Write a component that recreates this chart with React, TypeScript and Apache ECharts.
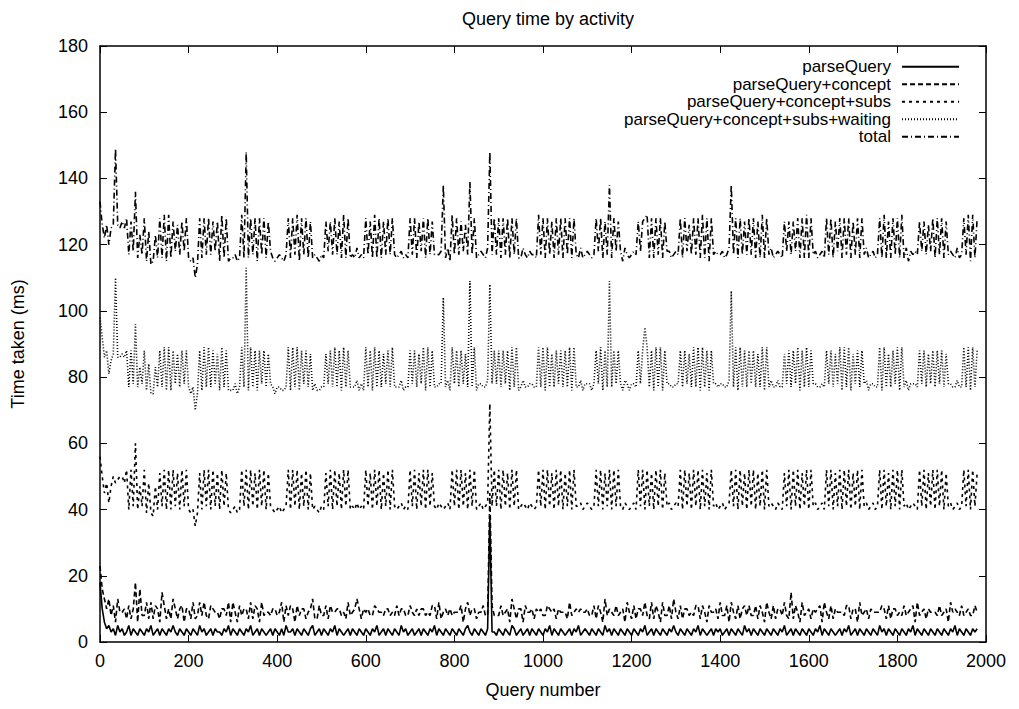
import React, { useEffect, useRef } from "react";
import * as echarts from "echarts";

// Query numbers are sampled every STEP queries (0, 5, 10, ... 1980)
const STEP = 5;

// parseQuery time (ms)
const parseQuery = [
  18,10,6,4,5,3,4,2,5,3,4,2,3,5,2,4,3,2,4,3,
  2,4,3,5,2,3,4,2,4,3,2,4,3,5,3,2,4,3,2,4,
  3,2,4,3,2,5,3,4,2,3,4,2,4,3,3,2,4,3,5,2,
  4,3,2,4,3,2,4,3,5,2,3,4,2,4,3,2,3,4,2,4,
  3,2,4,2,5,3,3,4,2,4,3,2,4,3,2,4,5,2,3,4,
  2,4,3,2,4,3,5,2,4,3,2,3,4,2,4,3,2,4,3,2,
  4,3,2,4,3,5,2,3,4,2,4,3,2,4,3,2,5,3,4,2,
  3,4,2,3,4,2,4,3,2,4,3,5,2,4,3,2,4,3,2,4,
  3,2,4,3,2,4,5,3,2,4,3,2,4,3,2,4,38,3,3,2,
  4,3,2,4,3,2,5,4,2,3,4,2,3,4,2,4,3,2,4,3,
  2,4,3,5,2,4,3,2,4,3,2,3,4,2,4,3,5,2,3,4,
  3,2,4,3,2,4,3,2,5,3,4,2,4,3,2,4,3,2,4,3,
  2,4,3,2,4,3,5,2,3,4,2,4,3,2,4,3,2,4,3,5,
  3,2,4,3,2,4,3,2,4,3,5,2,4,3,2,3,4,2,4,3,
  4,2,3,4,2,4,3,2,4,3,2,5,3,4,2,4,3,2,4,3,
  2,4,3,2,4,3,2,4,3,5,2,3,4,2,4,3,2,4,3,2,
  4,3,2,4,3,5,2,4,3,2,4,3,2,3,4,2,4,3,5,2,
  3,4,2,4,3,2,4,3,2,4,3,2,5,3,4,2,4,3,2,4,
  3,2,4,3,2,4,3,5,2,4,3,2,4,3,2,4,3,2,4,3,
  2,4,3,2,4,3,5,2,4,3,2,4,3,2,4,3,4,
];

// concept time (ms), stacked on parseQuery
const concept = [
  5,6,7,6,8,5,7,4,8,6,5,8,4,6,5,6,15,4,12,5,
  6,8,4,7,5,8,6,4,11,8,5,6,4,8,7,5,6,8,4,6,
  7,5,8,4,6,7,5,8,6,4,7,8,5,6,4,8,6,5,7,4,
  8,6,4,7,5,8,6,4,7,5,8,6,4,8,5,7,6,4,8,6,
  5,7,8,4,6,5,8,6,4,7,5,8,6,4,7,6,8,5,4,7,
  6,4,8,5,7,6,4,8,6,5,7,4,8,6,5,7,11,6,4,8,
  5,7,6,4,8,5,7,6,4,8,6,5,7,4,8,6,5,7,4,6,
  8,5,6,7,4,8,6,5,7,4,8,6,5,8,4,7,6,5,8,4,
  6,7,5,8,4,6,7,5,8,6,4,7,5,8,6,4,7,8,5,6,
  4,8,6,5,7,4,8,6,5,7,6,4,8,5,7,6,4,8,5,7,
  6,4,8,5,7,6,4,8,5,6,7,4,8,6,5,7,4,8,6,5,
  7,6,4,8,5,7,6,4,8,5,6,7,4,8,6,5,7,4,8,6,
  5,7,4,8,6,5,7,6,4,8,5,7,6,4,8,5,6,7,4,8,
  6,5,7,4,8,6,5,7,4,8,6,5,7,6,4,8,5,7,6,4,
  8,6,5,7,4,8,6,5,7,4,8,6,5,7,6,4,8,5,7,6,
  4,8,6,5,7,4,8,6,5,7,6,4,11,5,7,6,4,8,5,7,
  6,4,8,5,7,6,4,8,6,5,7,4,8,6,5,7,4,8,6,5,
  7,6,4,8,5,7,6,4,8,5,6,7,4,8,6,5,7,4,8,6,
  5,7,4,8,6,5,7,6,4,8,5,7,6,4,8,5,6,7,4,8,
  6,5,7,4,8,6,5,7,4,8,6,5,7,6,4,8,5,
];

// parseQuery+concept+subs line (ms)
const withSubs = [
  56,50,45,48,42,47,50,48,49,50,50,48,52,40,52,41,60,40,47,41,
  52,39,48,39,38,47,40,51,41,52,40,52,40,52,41,51,40,52,41,52,
  40,39,40,35,39,51,40,52,41,52,40,52,41,51,40,52,41,51,40,39,
  40,41,39,40,52,41,52,40,52,41,51,40,52,41,52,40,51,41,40,39,
  40,41,39,40,41,52,40,52,41,52,40,51,41,52,40,51,40,41,40,39,
  41,40,51,41,52,40,52,41,51,40,52,41,52,40,41,40,42,40,41,40,
  52,41,51,40,52,41,52,40,51,41,52,40,52,41,40,41,42,40,41,40,
  52,41,52,40,51,41,52,40,52,41,51,41,40,42,41,40,41,42,40,52,
  41,52,40,52,41,51,40,52,41,52,40,41,42,40,41,42,72,41,52,41,
  52,40,52,41,51,40,52,41,52,40,41,42,41,40,42,41,40,41,52,41,
  52,40,52,41,51,40,52,41,52,40,51,41,52,40,52,41,41,42,40,41,
  42,41,40,41,52,41,52,40,51,41,52,40,52,41,52,41,40,42,41,40,
  41,42,40,52,41,52,40,52,41,51,40,52,41,52,40,51,41,42,40,41,
  42,41,52,40,52,41,51,40,52,41,52,40,52,41,51,40,52,41,42,40,
  41,42,40,41,42,52,41,52,40,52,41,51,40,52,41,52,40,51,41,52,
  40,52,41,42,41,40,42,41,40,51,41,52,40,52,41,52,40,51,41,52,
  40,52,41,42,40,41,42,40,52,41,52,40,51,41,52,40,52,41,52,40,
  51,41,52,40,52,41,42,40,41,42,40,41,52,40,52,41,51,40,52,41,
  52,40,52,41,42,40,41,42,41,40,52,41,52,40,51,41,52,40,52,41,
  52,40,51,41,42,40,41,42,40,41,52,41,52,40,52,41,51,
];

// waiting time (ms): gap between the +subs and +waiting lines
const waiting = [
  42,42,41,40,39,38,37,62,37,36,37,38,36,37,36,37,36,37,36,37,
  36,37,36,36,37,36,37,37,36,37,36,37,36,36,37,36,37,36,37,36,
  37,36,37,35,36,37,36,37,36,37,37,36,37,36,36,37,36,37,36,37,
  36,37,36,37,37,36,61,36,37,36,37,36,36,37,36,37,36,37,37,36,
  37,36,37,36,36,37,36,37,36,37,36,37,37,36,37,36,36,37,36,37,
  36,37,36,37,36,37,37,36,37,36,37,36,36,37,36,37,37,36,37,36,
  37,36,37,36,37,36,36,37,36,37,36,37,37,36,37,36,37,36,36,37,
  36,37,36,37,36,37,37,36,37,36,37,36,37,36,37,64,36,37,36,37,
  37,36,37,36,37,36,37,57,36,37,36,37,36,37,36,37,36,37,36,37,
  36,37,36,37,37,36,37,36,37,36,36,37,36,37,36,37,37,36,37,36,
  37,36,37,36,36,37,36,37,36,37,37,36,37,36,37,36,36,37,36,37,
  36,37,36,37,36,37,37,36,37,36,57,37,36,37,36,37,36,37,37,36,
  37,36,37,36,37,36,55,37,36,37,36,37,36,37,36,37,37,36,37,36,
  36,37,36,37,36,37,36,37,37,36,37,36,37,36,37,36,36,37,36,37,
  37,36,37,36,37,54,36,37,36,37,36,37,37,36,37,36,37,36,36,37,
  36,37,36,37,36,37,37,36,37,36,37,36,37,36,37,37,36,37,36,37,
  37,36,37,36,37,36,36,37,36,37,36,37,36,37,37,36,37,36,37,36,
  36,37,36,37,36,37,37,36,37,36,37,36,37,36,37,36,36,37,36,37,
  37,36,37,36,37,36,37,36,37,37,36,37,36,37,36,37,36,37,36,37,
  36,37,36,37,36,37,36,37,37,36,37,36,37,36,37,36,37,
];

// remaining time (ms): gap between the +waiting line and the total line
const other = [
  35,34,36,38,39,40,39,39,40,39,40,39,40,40,39,40,40,39,40,39,
  40,39,40,39,40,40,39,40,39,40,39,40,40,39,40,39,40,39,40,40,
  39,40,39,40,39,40,40,39,40,39,40,39,40,40,39,40,39,40,39,40,
  40,39,40,39,40,39,35,40,39,40,40,39,40,39,40,39,40,40,39,40,
  39,40,40,39,40,39,40,39,40,40,39,40,39,40,39,40,40,39,40,39,
  40,39,40,40,39,40,39,40,39,40,40,39,40,39,40,39,40,40,39,40,
  39,40,39,40,40,39,40,39,40,39,40,40,39,40,39,40,39,40,40,39,
  40,39,40,39,40,40,39,40,39,40,39,40,40,39,40,34,39,40,39,40,
  39,40,40,39,40,39,40,30,40,39,40,39,40,40,39,40,40,39,40,39,
  40,39,40,39,40,40,39,40,39,40,39,40,40,39,40,39,40,39,40,40,
  39,40,39,40,40,39,40,39,40,39,40,40,39,40,39,40,39,40,40,39,
  40,39,40,39,40,40,39,40,39,40,29,39,40,40,39,40,39,40,39,40,
  39,40,40,39,40,39,33,40,39,40,40,39,40,39,40,39,40,40,39,40,
  40,39,40,39,40,40,39,40,39,40,39,40,40,39,40,39,40,39,40,40,
  39,40,39,40,40,32,40,39,40,39,40,39,40,40,39,40,39,40,39,40,
  40,39,40,40,39,40,39,40,39,40,40,39,40,39,40,39,40,40,39,40,
  39,40,39,40,39,40,40,39,40,39,40,39,40,40,39,40,39,40,39,40,
  40,39,40,39,40,39,40,40,39,40,39,40,39,40,40,39,40,39,40,39,
  39,40,40,39,40,39,40,39,40,40,39,40,39,40,39,40,40,39,40,39,
  40,39,40,39,40,40,39,40,39,40,39,40,40,39,40,39,40,
];

const seriesNames = [
  "parseQuery",
  "parseQuery+concept",
  "parseQuery+concept+subs",
  "parseQuery+concept+subs+waiting",
  "total",
];
const dashStyles: (string | number[])[] = ["solid", [5, 3], [3, 4], [1, 2], [6, 3, 1, 3]];

const FONT = "'Liberation Sans', Arial, Helvetica, sans-serif";

export default function App() {
  const ref = useRef<HTMLDivElement>(null);
  useEffect(() => {
    const chart = echarts.init(ref.current!, null, { renderer: "svg" });
    const q = (i: number) => i * STEP;
    const l1 = parseQuery.map((v, i) => [q(i), v]);
    const l2 = concept.map((v, i) => [q(i), v + parseQuery[i]]);
    const l3 = withSubs.map((v, i) => [q(i), v]);
    const l4 = waiting.map((v, i) => [q(i), v + withSubs[i]]);
    const l5 = other.map((v, i) => [q(i), v + waiting[i] + withSubs[i]]);
    const lines = [l1, l2, l3, l4, l5];

    const axisCommon = {
      axisLine: { show: true, onZero: false, lineStyle: { color: "#000", width: 1.5 } },
      axisTick: { show: true, inside: true, length: 7, lineStyle: { color: "#000", width: 1 } },
      splitLine: { show: false },
    };
    const labelStyle = { color: "#000", fontSize: 18, fontFamily: FONT };

    chart.setOption({
      animation: false,
      backgroundColor: "#fff",
      textStyle: { fontFamily: FONT, color: "#000" },
      title: {
        text: "Query time by activity",
        left: 543,
        top: 5,
        textAlign: "center",
        textStyle: { fontSize: 18, fontWeight: "normal", color: "#000", fontFamily: FONT },
      },
      legend: {
        orient: "vertical",
        right: 59,
        top: 58,
        align: "right",
        padding: 0,
        itemWidth: 57,
        itemHeight: 10,
        itemGap: 0,
        selectedMode: false,
        itemStyle: { color: "transparent", borderColor: "transparent", borderWidth: 0, opacity: 0 },
        textStyle: { ...labelStyle, fontSize: 17, lineHeight: 17.5, padding: [0, 6, 0, 0] },
        data: seriesNames,
      },
      grid: { left: 100, right: 33, top: 46, bottom: 67, containLabel: false },
      xAxis: [
        {
          type: "value",
          min: 0,
          max: 2000,
          interval: 200,
          position: "bottom",
          ...axisCommon,
          axisLabel: { ...labelStyle, margin: 10, formatter: (v: number) => String(v) },
          name: "Query number",
          nameLocation: "middle",
          nameGap: 39,
          nameTextStyle: labelStyle,
        },
        {
          type: "value",
          min: 0,
          max: 2000,
          interval: 200,
          position: "top",
          ...axisCommon,
          axisLabel: { show: false },
        },
      ],
      yAxis: [
        {
          type: "value",
          min: 0,
          max: 180,
          interval: 20,
          position: "left",
          ...axisCommon,
          axisLabel: { ...labelStyle, margin: 12, formatter: (v: number) => String(v) },
          name: "Time taken (ms)",
          nameLocation: "middle",
          nameGap: 73,
          nameRotate: 90,
          nameTextStyle: labelStyle,
        },
        {
          type: "value",
          min: 0,
          max: 180,
          interval: 20,
          position: "right",
          ...axisCommon,
          axisLabel: { show: false },
        },
      ],
      series: seriesNames.map((name, k) => ({
        name,
        type: "line",
        xAxisIndex: 0,
        yAxisIndex: 0,
        data: lines[k],
        symbol: "none",
        showSymbol: false,
        silent: true,
        color: "#000",
        lineStyle: { color: "#000", width: 1.6, type: dashStyles[k] },
      })),
    });
    return () => chart.dispose();
  }, []);
  return (
    <div
      ref={ref}
      style={{ position: "absolute", left: 0, top: 0, width: 1019, height: 709 }}
    />
  );
}
